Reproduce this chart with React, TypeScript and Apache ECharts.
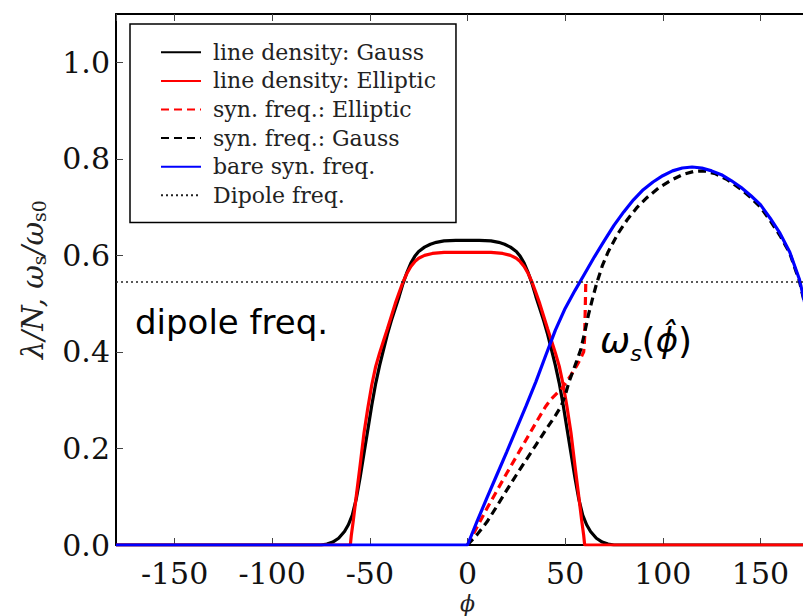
import React, { useEffect, useRef } from 'react';
import * as echarts from 'echarts';

const seriesNames = [
  'line density: Gauss',
  'line density: Elliptic',
  'syn. freq.: Elliptic',
  'syn. freq.: Gauss',
  'bare syn. freq.',
  'Dipole freq.',
];

// line density, Gauss
const gaussPhi = [-180, -80, -75, -72, -69, -66, -63, -61, -59, -57, -55, -53, -51, -49, -47, -45, -43, -41, -39, -37, -35, -33, -31, -29, -27, -25, -22, -19, -16, -12, -6, 0, 6, 12, 16, 19, 22, 25, 27, 29, 31, 33, 35, 37, 39, 41, 43, 45, 47, 49, 51, 53, 55, 57, 59, 61, 63, 66, 69, 72, 75, 80, 180];
const gaussDensity = [0, 0, 0, 0.002, 0.006, 0.014, 0.028, 0.042, 0.062, 0.095, 0.14, 0.19, 0.24, 0.29, 0.335, 0.372, 0.405, 0.437, 0.465, 0.49, 0.515, 0.542, 0.565, 0.584, 0.598, 0.608, 0.617, 0.623, 0.627, 0.63, 0.631, 0.631, 0.631, 0.63, 0.627, 0.623, 0.617, 0.608, 0.598, 0.584, 0.565, 0.542, 0.515, 0.49, 0.465, 0.437, 0.405, 0.372, 0.335, 0.29, 0.24, 0.19, 0.14, 0.095, 0.062, 0.042, 0.028, 0.014, 0.006, 0.002, 0, 0, 0];

// line density, Elliptic
const ellPhi = [-180, -60, -59.5, -58.5, -57, -55, -53, -51, -49, -47, -45, -43, -41, -39, -37, -35, -33, -31, -29, -27, -25, -22, -18, -12, 0, 12, 18, 22, 25, 27, 29, 31, 33, 35, 37, 39, 41, 43, 45, 47, 49, 51, 53, 55, 57, 58.5, 59.5, 60, 180];
const ellDensity = [0, 0, 0.02, 0.05, 0.1, 0.165, 0.232, 0.285, 0.332, 0.37, 0.398, 0.423, 0.448, 0.474, 0.5, 0.523, 0.545, 0.563, 0.577, 0.587, 0.594, 0.6, 0.604, 0.606, 0.606, 0.606, 0.604, 0.6, 0.594, 0.587, 0.577, 0.563, 0.545, 0.523, 0.5, 0.474, 0.448, 0.423, 0.398, 0.37, 0.332, 0.285, 0.232, 0.165, 0.1, 0.05, 0.02, 0, 0];

// synchrotron frequency, Elliptic
const synEllPhi = [0, 5, 10, 15, 20, 25, 30, 35, 40, 43, 46, 48, 50, 53, 56, 58, 59.5, 60, 60.3, 60.6];
const synEll = [0, 0.038, 0.076, 0.112, 0.148, 0.183, 0.218, 0.253, 0.287, 0.303, 0.315, 0.323, 0.334, 0.352, 0.372, 0.387, 0.4, 0.43, 0.49, 0.55];

// synchrotron frequency, Gauss
const synGaussPhi = [0, 5, 10, 15, 20, 25, 30, 35, 40, 45, 48, 50, 52, 54, 56, 58, 60, 62, 64, 66, 69, 72, 77, 82, 87, 92, 98, 104, 110, 116, 121, 127, 133, 140, 145, 150, 155, 160, 165, 170, 175, 178, 180];
const synGauss = [0, 0.022, 0.048, 0.08, 0.113, 0.145, 0.176, 0.207, 0.238, 0.268, 0.288, 0.31, 0.338, 0.36, 0.382, 0.405, 0.44, 0.478, 0.51, 0.54, 0.578, 0.607, 0.645, 0.675, 0.7, 0.72, 0.74, 0.755, 0.767, 0.774, 0.775, 0.769, 0.757, 0.737, 0.72, 0.7, 0.672, 0.641, 0.605, 0.546, 0.46, 0.37, 0];

// bare synchrotron frequency
const barePhi = [-180, 0, 5, 10, 15, 20, 25, 30, 35, 40, 45, 50, 55, 60, 65, 70, 75, 80, 85, 90, 95, 100, 105, 110, 115, 120, 125, 130, 135, 140, 145, 150, 155, 160, 165, 170, 175, 178, 180];
const bareSyn = [0, 0, 0.05, 0.098, 0.145, 0.192, 0.24, 0.288, 0.338, 0.392, 0.445, 0.49, 0.527, 0.562, 0.597, 0.63, 0.662, 0.69, 0.715, 0.736, 0.752, 0.765, 0.775, 0.781, 0.783, 0.781, 0.775, 0.767, 0.755, 0.741, 0.724, 0.705, 0.677, 0.646, 0.607, 0.55, 0.46, 0.37, 0];

// dipole frequency
const dipolePhi = [-180, 180];
const dipoleFreq = [0.545, 0.545];

const xTickLabels = [-150, -100, -50, 0, 50, 100, 150];

const zip = (xs: number[], ys: number[]) => xs.map((x, i) => [x, ys[i]]);

export default function App() {
  const ref = useRef<HTMLDivElement>(null);
  useEffect(() => {
    document.body.style.margin = '0';
    const chart = echarts.init(ref.current!, null, { renderer: 'svg' });
    const serif = 'DejaVu Serif';
    const mk = (i: number, data: number[][], color: string, type: any, width: number) => ({
      type: 'line',
      name: seriesNames[i],
      data,
      symbol: 'none',
      showSymbol: false,
      silent: true,
      lineStyle: { color, type, width },
      itemStyle: { color },
    });
    const axisLine = { show: true, onZero: false, lineStyle: { color: '#000', width: 2 } };
    const axisTick = { show: true, inside: true, length: 7, lineStyle: { color: '#444', width: 1 } };
    chart.setOption({
      animation: false,
      backgroundColor: '#fff',
      grid: { left: 116, right: -16, top: 14, bottom: 71, containLabel: false, outerBoundsMode: 'none' },
      legend: {
        orient: 'vertical',
        left: 130,
        top: 24,
        itemWidth: 40,
        itemHeight: 14,
        itemGap: 0,
        padding: [14, 20, 13, 30],
        borderColor: '#000',
        borderWidth: 1.5,
        backgroundColor: '#fff',
        selectedMode: false,
        data: seriesNames,
        itemStyle: { opacity: 0, borderWidth: 0 },
        textStyle: { fontFamily: serif, fontSize: 22, color: '#222', lineHeight: 28.6, padding: [0, 0, 0, 7] },
      },
      xAxis: [
        {
          type: 'value',
          min: -180,
          max: 180,
          splitNumber: 7,
          minInterval: 50,
          maxInterval: 50,
          position: 'bottom',
          axisLine,
          axisTick,
          splitLine: { show: false },
          axisLabel: {
            fontFamily: serif,
            fontSize: 30,
            color: '#111',
            margin: 13,
            showMinLabel: false,
            showMaxLabel: false,
            formatter: (v: number) => (xTickLabels.includes(v) ? String(v) : ''),
          },
          name: 'ϕ',
          nameLocation: 'middle',
          nameGap: 40,
          nameTextStyle: { fontFamily: serif, fontStyle: 'italic', fontSize: 22, color: '#222' },
        },
        {
          type: 'value',
          min: -180,
          max: 180,
          splitNumber: 7,
          minInterval: 50,
          maxInterval: 50,
          position: 'top',
          axisLine,
          axisTick,
          splitLine: { show: false },
          axisLabel: { show: false },
        },
      ],
      yAxis: {
        type: 'value',
        min: 0,
        max: 1.1,
        interval: 0.2,
        axisLine,
        axisTick,
        splitLine: { show: false },
        axisLabel: {
          fontFamily: serif,
          fontSize: 30,
          color: '#111',
          margin: 6,
          showMaxLabel: false,
          formatter: (v: number) => (v > 1.05 ? '' : v.toFixed(1)),
        },
        name: '{i|λ/N, ω}{sub|s}{i|/ω}{sub|s0}',
        nameLocation: 'middle',
        nameGap: 68,
        nameTextStyle: {
          fontFamily: serif,
          fontSize: 29,
          rich: {
            i: { fontFamily: serif, fontStyle: 'italic', fontSize: 29, color: '#222' },
            sub: { fontFamily: serif, fontSize: 19, color: '#222', padding: [12, 0, 0, 0] },
          },
        },
      },
      series: [
        mk(0, zip(gaussPhi, gaussDensity), '#000000', 'solid', 3.2),
        mk(1, zip(ellPhi, ellDensity), '#ff0000', 'solid', 3.2),
        mk(2, zip(synEllPhi, synEll), '#ff0000', [8, 5], 3.2),
        mk(3, zip(synGaussPhi, synGauss), '#000000', [8, 5], 3.2),
        mk(4, zip(barePhi, bareSyn), '#0000ff', 'solid', 3.2),
        mk(5, zip(dipolePhi, dipoleFreq), '#222222', [2, 3], 1.5),
      ],
      graphic: [
        {
          type: 'text',
          left: 135,
          top: 305,
          silent: true,
          style: { text: 'dipole freq.', fontFamily: 'DejaVu Sans', fontSize: 34, fill: '#000' },
        },
        {
          type: 'text',
          left: 600,
          top: 322,
          silent: true,
          style: {
            text: '{w|ω}{s|s}{p|(}{f|ϕ̂}{p|)}',
            rich: {
              w: { fontFamily: 'DejaVu Sans', fontStyle: 'italic', fontSize: 36, fill: '#000' },
              s: { fontFamily: 'DejaVu Sans', fontStyle: 'italic', fontSize: 22, fill: '#000', padding: [26, 0, 0, 0] },
              p: { fontFamily: 'DejaVu Sans', fontSize: 36, fill: '#000' },
              f: { fontFamily: 'DejaVu Sans', fontStyle: 'italic', fontSize: 34, fill: '#000' },
            },
          },
        },
      ],
    });
    return () => chart.dispose();
  }, []);
  return <div ref={ref} style={{ width: 803, height: 616 }} />;
}
